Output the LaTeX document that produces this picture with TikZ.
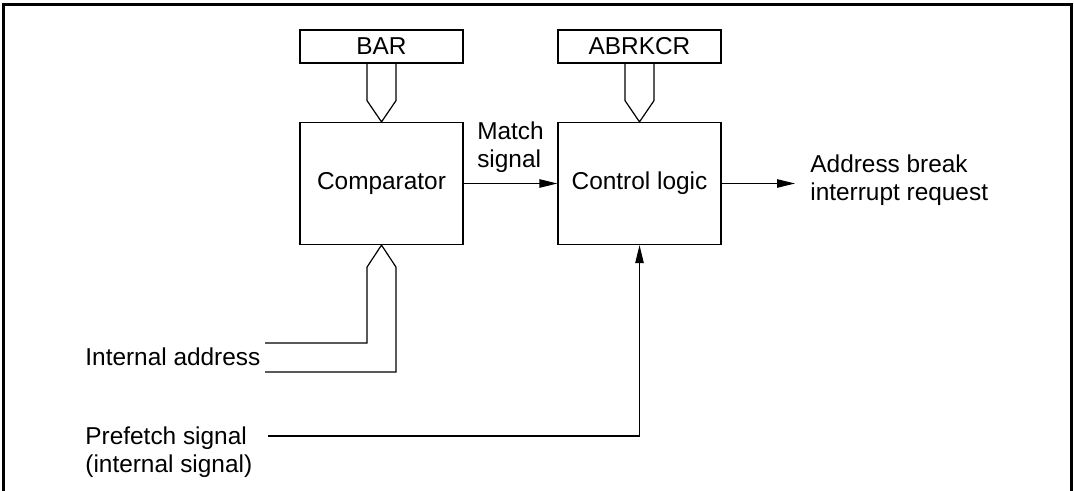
\documentclass[tikz,border=0pt]{standalone}
\usepackage{fontspec}
\setmainfont{Liberation Sans}
\usetikzlibrary{arrows.meta,calc,positioning}

\begin{document}
\begin{tikzpicture}[x=0.5pt,y=-0.5pt,>={Triangle[length=9pt,width=4.2pt]},font=\fontsize{12.2}{14}\selectfont,
  blk/.style={draw,line width=0.6pt,minimum width=81.5pt,inner sep=0pt},
  bus/.style={line width=0.6pt,line join=miter},
  sig/.style={line width=0.6pt}]
  \useasboundingbox (0,0) rectangle (1074,491);
  \draw[line width=1.5pt] (3.5,500)--(3.5,5)--(1071,5)--(1071,500);

  % registers and blocks
  \node[blk,minimum height=16.5pt] (bar) at (381.5,46.5) {BAR};
  \node[blk,minimum height=16.5pt] (abrk) at (639.5,46.5) {ABRKCR};
  \node[blk,minimum height=61pt] (cmp) at (381.5,183.5) {Comparator};
  \node[blk,minimum height=61pt] (ctl) at (639.5,183.5) {Control logic};

  % inputs and output
  \node[anchor=west,inner sep=0pt] (iaddr) at (85,357) {Internal address};
  \node[anchor=north west,align=left,inner sep=0pt] (pfetch) at (85,426) {Prefetch signal\\(internal signal)};
  \node[anchor=west,align=left,inner sep=0pt] (irq) at (810,180) {Address break\\interrupt request};
  \coordinate (ia1) at (265,343);
  \coordinate (ia2) at (265,372);
  \coordinate (pf) at (268,436);
  \coordinate (out) at (795,183.5);

  % buses
  \draw[bus] ($(bar.south)+(-14.5,0)$) -- ++(0,37) -- (cmp.north) -- ($(bar.south)+(14.5,37)$) -- ($(bar.south)+(14.5,0)$);
  \draw[bus] ($(abrk.south)+(-14.5,0)$) -- ++(0,37) -- (ctl.north) -- ($(abrk.south)+(14.5,37)$) -- ($(abrk.south)+(14.5,0)$);
  \draw[bus] (ia1) -| ($(cmp.south)+(-14.5,22)$) -- (cmp.south) -- ($(cmp.south)+(14.5,22)$) |- (ia2);

  % signals
  \draw[sig,->] (cmp) -- (ctl)
    node[midway,above=2pt,align=left] {Match\\signal};
  \draw[sig,->] (ctl) -- (out);
  \draw[sig,->] (pf) -| (ctl.south);
\end{tikzpicture}
\end{document}
